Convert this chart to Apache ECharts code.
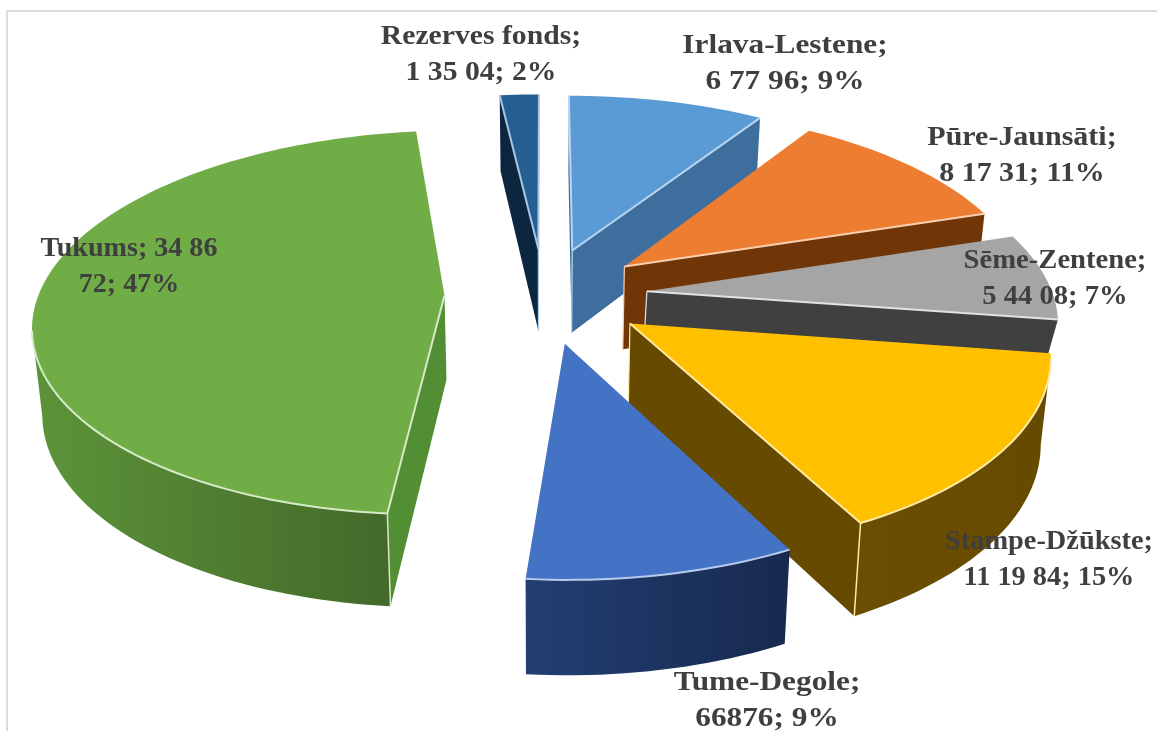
<!DOCTYPE html>
<html><head><meta charset="utf-8">
<style>html,body{margin:0;padding:0;background:#fff}#c{width:1157px;height:731px}</style>
<script src="https://cdn.jsdelivr.net/npm/echarts@6/dist/echarts.min.js"></script>
</head><body><div id="c"></div>
<script>
// Data, clockwise from 12 o'clock
const names = ['Irlava-Lestene','Pūre-Jaunsāti','Sēme-Zentene','Stampe-Džūkste','Tume-Degole','Tukums','Rezerves fonds'];
const values = [67796,81731,54408,111984,66876,348672,13504];
const valueTexts = ['6 77 96','8 17 31','5 44 08','11 19 84','66876','34 86 72','1 35 04'];
const percentTexts = ['9%','11%','7%','15%','9%','47%','2%'];

// Styles
const topColors = ['#5b9bd5','#ed7d31','#a5a5a5','#ffc000','#4472c4','#70ad47','#255e91'];
const edgeColors = ['#b9d6f0','#f9cfae','#e2e2e2','#ffe9a6','#b8cbec','#d7eac8','#a9c8e4'];
const wallFrom = ['#3a6b9c','#7a3d0e','#404040','#6b4e00','#223f73','#5c9439','#0f2a47'];
const wallTo   = ['#3a6b9c','#6b3409','#3c3c44','#664a00','#17294f','#44692a','#0f2a47'];
const sideColors = ['#3d6e9e','#703608','#404040','#664a00','#1f3864','#528e33','#0d2640'];
const explodes = [0.255,0.255,0.255,0.255,0.255,0.245,0.255];
const wallScales = [1,1,0.42,1,1,1,1];
// Paint order, back to front (indices into the arrays above)
const paintOrder = [6,0,1,2,3,4,5];

// Label layout
const labelCentres = [[785,46],[1022,138],[1055,261],[1049,542],[767,683],[129,249],[481,37]];
const labelStretch = [1.16,1.11,1.06,1.05,1.16,1.04,1.1];
const labelLines = names.map((n,i)=> i===5 ? 'Tukums; 34 86\n72; 47%' : n+';\n'+valueTexts[i]+'; '+percentTexts[i]);

// 3-D projection of the exploded pie
const CX=544, CY=295, RX=406, RY=188, P=0.14, H=84, SX=0.98, TY=1.04;
function proj(th, r, ex, ey, low){
  const X=r*Math.sin(th)+ex, Y=r*Math.cos(th)+ey, w=1/(1+P*Y);
  let x=CX+RX*X*w, y=CY-RY*Y*w;
  if(low!==undefined){ x=CX+(x-CX)*SX; y=CY+H*low+(y-CY)*TY; }
  return [x,y];
}
const total = values.reduce((a,b)=>a+b,0);
const starts = []; values.reduce((acc,v,i)=>{starts[i]=acc; return acc+v;},0);

function renderSlice(params, api){
  const i=api.value(0), th0=api.value(2)/total*2*Math.PI, th1=(api.value(2)+api.value(1))/total*2*Math.PI;
  const mid=(th0+th1)/2, ex=explodes[i]*Math.sin(mid), ey=explodes[i]*Math.cos(mid), ws=wallScales[i];
  const n=Math.max(2,Math.ceil((th1-th0)/(Math.PI/120)));
  const rimT=[], rimB=[];
  for(let k=0;k<=n;k++){ const t=th0+(th1-th0)*k/n; rimT.push(proj(t,1,ex,ey)); rimB.push(proj(t,1,ex,ey,ws)); }
  const aT=proj(0,0,ex,ey), aB=proj(0,0,ex,ey,ws);
  const ch=[];
  const edge=(pts,w)=>ch.push({type:'polyline',silent:true,shape:{points:pts},style:{stroke:edgeColors[i],lineWidth:w||2,fill:null}});
  const s0=rimT[0], s1=rimT[n];
  const startVis=s0[0]<aT[0], endVis=s1[0]>aT[0];
  if(startVis) ch.push({type:'polygon',silent:true,shape:{points:[aT,s0,rimB[0],aB]},style:{fill:sideColors[i]}});
  if(endVis) ch.push({type:'polygon',silent:true,shape:{points:[aT,s1,rimB[n],aB]},style:{fill:sideColors[i]}});
  // visible part of the rim wall
  const vis=[]; for(let k=0;k<n;k++) if(rimT[k+1][0]<rimT[k][0]) vis.push(k);
  let rimTop=null;
  if(vis.length){
    const a=vis[0], b=vis[vis.length-1]+1;
    rimTop=rimT.slice(a,b+1);
    const poly=rimTop.concat(rimB.slice(a,b+1).reverse());
    ch.push({type:'polygon',silent:true,shape:{points:poly},style:{fill:new echarts.graphic.LinearGradient(0,0,1,0,[{offset:0,color:wallFrom[i]},{offset:1,color:wallTo[i]}])}});
  }
  ch.push({type:'polygon',silent:true,shape:{points:[aT].concat(rimT)},style:{fill:topColors[i]}});
  if(startVis) edge([aT,s0]);
  if(endVis){ edge([aT,s1]); edge([aT,aB],1.2); }
  if(rimTop) edge(rimTop);
  if(startVis && rimTop && rimTop[0]===s0) edge([s0,rimB[0]],1.5);
  if(endVis && rimTop && rimTop[rimTop.length-1]===s1) edge([s1,rimB[n]],1.5);
  return {type:'group',children:ch};
}
function renderLabel(params, api){
  const i=api.value(0), c=labelCentres[i];
  return {type:'text',silent:true,x:c[0],y:c[1]-18,scaleX:labelStretch[i],style:{text:labelLines[i],fill:'#3f3f3f',
    font:'bold 27px "Liberation Serif", serif',lineHeight:36,align:'center',verticalAlign:'top',textAlign:'center',textVerticalAlign:'top'}};
}
const chart=echarts.init(document.getElementById('c'));
chart.setOption({
  animation:false, backgroundColor:'#fff',
  graphic:[{type:'polyline',silent:true,shape:{points:[[7,731],[7,11],[1157,11]]},style:{stroke:'#dcdcdc',lineWidth:2,fill:null}}],
  series:[
    {type:'custom',coordinateSystem:'none',silent:true,z:2,renderItem:renderSlice,
     data:paintOrder.map(i=>[i,values[i],starts[i]])},
    {type:'custom',coordinateSystem:'none',silent:true,z:3,renderItem:renderLabel,
     data:paintOrder.map(i=>[i,values[i],starts[i]])}
  ]
});
</script></body></html>
